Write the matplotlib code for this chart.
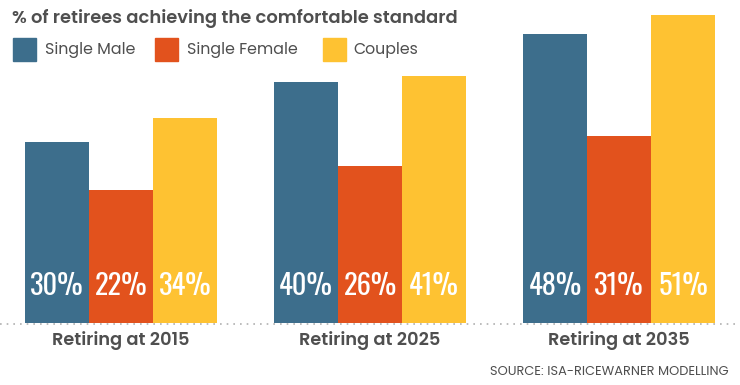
import matplotlib
matplotlib.use("Agg")
import matplotlib.pyplot as plt
from matplotlib.patches import Rectangle

categories = ["Retiring at 2015", "Retiring at 2025", "Retiring at 2035"]
series_names = ["Single Male", "Single Female", "Couples"]
single_male = [30, 40, 48]
single_female = [22, 26, 31]
couples = [34, 41, 51]
colors = ["#3d6e8c", "#e2521d", "#fec232"]
title = "% of retirees achieving the comfortable standard"
source = "SOURCE: ISA-RICEWARNER MODELLING"

plt.rcParams["font.family"] = ["Poppins", "DejaVu Sans"]

W, H = 740, 385
fig = plt.figure(figsize=(W / 100, H / 100), dpi=100)
grey = "#4f4f4f"

bottom_px = H - 323
ax = fig.add_axes([0, bottom_px / H, 1, 323 / H])
spacing = 249.0
x0 = 121.0
ax.set_xlim(-x0 / spacing, (W - x0) / spacing)
ax.set_ylim(0, 323 / 6.03)
ax.axis("off")

bw = 64 / spacing
data = [single_male, single_female, couples]
for s, vals in enumerate(data):
    xs = [i + (s - 1) * bw for i in range(len(categories))]
    ax.bar(xs, vals, width=bw, color=colors[s], edgecolor="none", zorder=2)
    for x, v in zip(xs, vals):
        ax.text(x, 6.1, f"{v}%", ha="center", va="center", color="white",
                fontsize=20.5, family=["Oswald", "DejaVu Sans"], zorder=3)

fig.add_artist(plt.Line2D([0, 1], [bottom_px / H - 1 / H, bottom_px / H - 1 / H],
                          transform=fig.transFigure, color="#b0b0b0", lw=1.2,
                          linestyle=(0, (1, 3))))

for i, c in enumerate(categories):
    xf = (x0 + i * spacing) / W
    fig.text(xf, 1 - 341 / H, c, ha="center", va="center", fontsize=12.8,
             fontweight="semibold", color=grey)

fig.text(12 / W, 1 - 19 / H, title, ha="left", va="center", fontsize=12.9,
         fontweight="semibold", color=grey)

leg_sq = [13, 155, 323]
leg_tx = [45, 187, 353]
for s in range(3):
    fig.add_artist(Rectangle((leg_sq[s] / W, 1 - 61 / H), 23 / W, 23 / H,
                             transform=fig.transFigure, color=colors[s]))
    fig.text(leg_tx[s] / W, 1 - 50 / H, series_names[s], ha="left", va="center",
             fontsize=11.4, color=grey)

fig.text(729 / W, 1 - 372 / H, source, ha="right", va="center", fontsize=9.3,
         color=grey)

fig.savefig("out.png", dpi=100)
